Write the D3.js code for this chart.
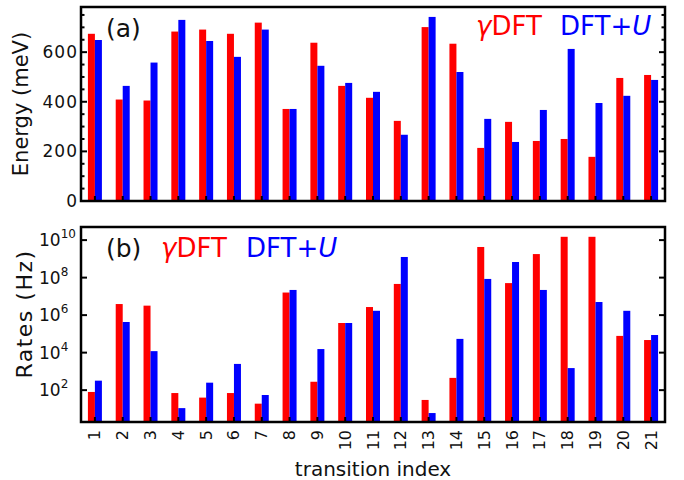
<!DOCTYPE html>
<html>
<head>
<meta charset="utf-8">
<script src="https://cdn.jsdelivr.net/npm/d3@7"></script>
<style>
  html, body { margin: 0; padding: 0; background: #fff; }
  svg { display: block; font-family: "DejaVu Sans", sans-serif; }
</style>
</head>
<body>
<svg id="chart" width="684" height="480"></svg>
<script>
// ---- data ----
const categories = d3.range(1, 22).map(String);
const energyGamma = [674, 409, 405, 683, 691, 674, 719, 371, 638, 464, 416, 323, 701, 634, 214, 319, 242, 250, 178, 496, 508];
const energyU     = [649, 464, 558, 730, 645, 581, 691, 371, 545, 476, 440, 267, 742, 520, 331, 238, 367, 613, 395, 424, 488];
const rateGamma = [8e1, 3.9e6, 3.2e6, 7e1, 4e1, 7e1, 1.9e1, 1.6e7, 2.8e2, 3.8e5, 2.7e6, 4.6e7, 3e1, 4.5e2, 4.3e9, 5.1e7, 1.8e9, 1.5e10, 1.5e10, 7.8e4, 4.7e4];
const rateU     = [3.2e2, 4.3e5, 1.2e4, 1.1e1, 2.5e2, 2.5e3, 5.5e1, 2.2e7, 1.55e4, 3.8e5, 1.7e6, 1.26e9, 6, 5.4e4, 8.5e7, 6.8e8, 2.2e7, 1.5e3, 5e6, 1.7e6, 8.7e4];
const energyTicks = [0, 200, 400, 600];
const energyMinor = d3.range(50, 800, 50).filter(v => v % 200 !== 0 && v < 782);
const rateTicks = [1e2, 1e4, 1e6, 1e8, 1e10];
const rateTickExp = ["2", "4", "6", "8", "10"];

const RED = "#ff0000", BLUE = "#0000ff";
const svg = d3.select("#chart");
const L = 81, R = 665;
const x = d3.scaleBand().domain(categories).range([L, R]).paddingInner(0).paddingOuter(0);
const bw = 7;

// ---- panel (a) ----
const aTop = 7, aBot = 201;
const yA = d3.scaleLinear().domain([0, 782]).range([aBot, aTop]);

const ga = svg.append("g");
categories.forEach((c, i) => {
  const cx = x(c) + x.bandwidth() / 2;
  ga.append("rect").attr("x", cx - bw).attr("width", bw)
    .attr("y", yA(energyGamma[i])).attr("height", aBot - yA(energyGamma[i])).attr("fill", RED);
  ga.append("rect").attr("x", cx).attr("width", bw)
    .attr("y", yA(energyU[i])).attr("height", aBot - yA(energyU[i])).attr("fill", BLUE);
});

function yTicks(g, scale, major, minor) {
  major.forEach(v => {
    const y = scale(v);
    g.append("line").attr("x1", L).attr("x2", L + 6).attr("y1", y).attr("y2", y);
    g.append("line").attr("x1", R - 6).attr("x2", R).attr("y1", y).attr("y2", y);
  });
  minor.forEach(v => {
    const y = scale(v);
    g.append("line").attr("x1", L).attr("x2", L + 3.5).attr("y1", y).attr("y2", y);
    g.append("line").attr("x1", R - 3.5).attr("x2", R).attr("y1", y).attr("y2", y);
  });
}
function xTicks(g, bottom) {
  categories.forEach(c => {
    const cx = x(c) + x.bandwidth() / 2;
    g.append("line").attr("x1", cx).attr("x2", cx).attr("y1", bottom).attr("y2", bottom - 5);
  });
}

const ta = svg.append("g").attr("stroke", "#000").attr("stroke-width", 2);
yTicks(ta, yA, energyTicks, energyMinor);
xTicks(ta, aBot);
svg.append("rect").attr("x", L).attr("y", aTop).attr("width", R - L).attr("height", aBot - aTop)
  .attr("fill", "none").attr("stroke", "#000").attr("stroke-width", 2.5);

energyTicks.forEach(v => {
  svg.append("text").attr("x", 78).attr("y", yA(v)).attr("text-anchor", "end")
    .attr("dominant-baseline", "central").attr("font-size", 17).attr("letter-spacing", 1)
    .attr("fill", "#111").text(v);
});
svg.append("text").attr("transform", "translate(28,104) rotate(-90)").attr("text-anchor", "middle")
  .attr("font-size", 21).attr("fill", "#111").text("Energy (meV)");

svg.append("text").attr("x", 106).attr("y", 37).attr("font-size", 25).attr("fill", "#111").text("(a)");
const legA1 = svg.append("text").attr("x", 476).attr("y", 35).attr("font-size", 26).attr("fill", RED);
legA1.append("tspan").attr("font-style", "italic").text("γ");
legA1.append("tspan").text("DFT");
const legA2 = svg.append("text").attr("x", 560).attr("y", 35).attr("font-size", 26).attr("fill", BLUE);
legA2.append("tspan").text("DFT+");
legA2.append("tspan").attr("font-style", "italic").text("U");

// ---- panel (b) ----
const bTop = 227, bBot = 422;
const yB = d3.scaleLog().domain([2, 5e10]).range([bBot, bTop]);

const gb = svg.append("g");
categories.forEach((c, i) => {
  const cx = x(c) + x.bandwidth() / 2;
  gb.append("rect").attr("x", cx - bw).attr("width", bw)
    .attr("y", yB(rateGamma[i])).attr("height", bBot - yB(rateGamma[i])).attr("fill", RED);
  gb.append("rect").attr("x", cx).attr("width", bw)
    .attr("y", yB(rateU[i])).attr("height", bBot - yB(rateU[i])).attr("fill", BLUE);
});
const tb = svg.append("g").attr("stroke", "#000").attr("stroke-width", 2);
yTicks(tb, yB, rateTicks, []);
xTicks(tb, bBot);
svg.append("rect").attr("x", L).attr("y", bTop).attr("width", R - L).attr("height", bBot - bTop)
  .attr("fill", "none").attr("stroke", "#000").attr("stroke-width", 2.5);

rateTicks.forEach((v, i) => {
  const t = svg.append("text").attr("x", 39).attr("y", yB(v) + 6).attr("font-size", 17).attr("fill", "#111");
  t.append("tspan").text("10");
  t.append("tspan").attr("font-size", 12).attr("dy", -8).text(rateTickExp[i]);
});
svg.append("text").attr("transform", "translate(32,314) rotate(-90)").attr("text-anchor", "middle")
  .attr("font-size", 22).attr("letter-spacing", 1.5).attr("fill", "#111").text("Rates (Hz)");

svg.append("text").attr("x", 106).attr("y", 257).attr("font-size", 25).attr("fill", "#111").text("(b)");
const legB1 = svg.append("text").attr("x", 161).attr("y", 257).attr("font-size", 26).attr("fill", RED);
legB1.append("tspan").attr("font-style", "italic").text("γ");
legB1.append("tspan").text("DFT");
const legB2 = svg.append("text").attr("x", 246).attr("y", 257).attr("font-size", 26).attr("fill", BLUE);
legB2.append("tspan").text("DFT+");
legB2.append("tspan").attr("font-style", "italic").text("U");

// x tick labels
categories.forEach(c => {
  const cx = x(c) + x.bandwidth() / 2;
  svg.append("text").attr("transform", `translate(${cx},430) rotate(-90)`)
    .attr("text-anchor", "end").attr("dominant-baseline", "central")
    .attr("font-size", 16).attr("fill", "#111").text(c);
});
svg.append("text").attr("x", (L + R) / 2).attr("y", 476).attr("text-anchor", "middle")
  .attr("font-size", 20).attr("fill", "#111").text("transition index");
</script>
</body>
</html>
